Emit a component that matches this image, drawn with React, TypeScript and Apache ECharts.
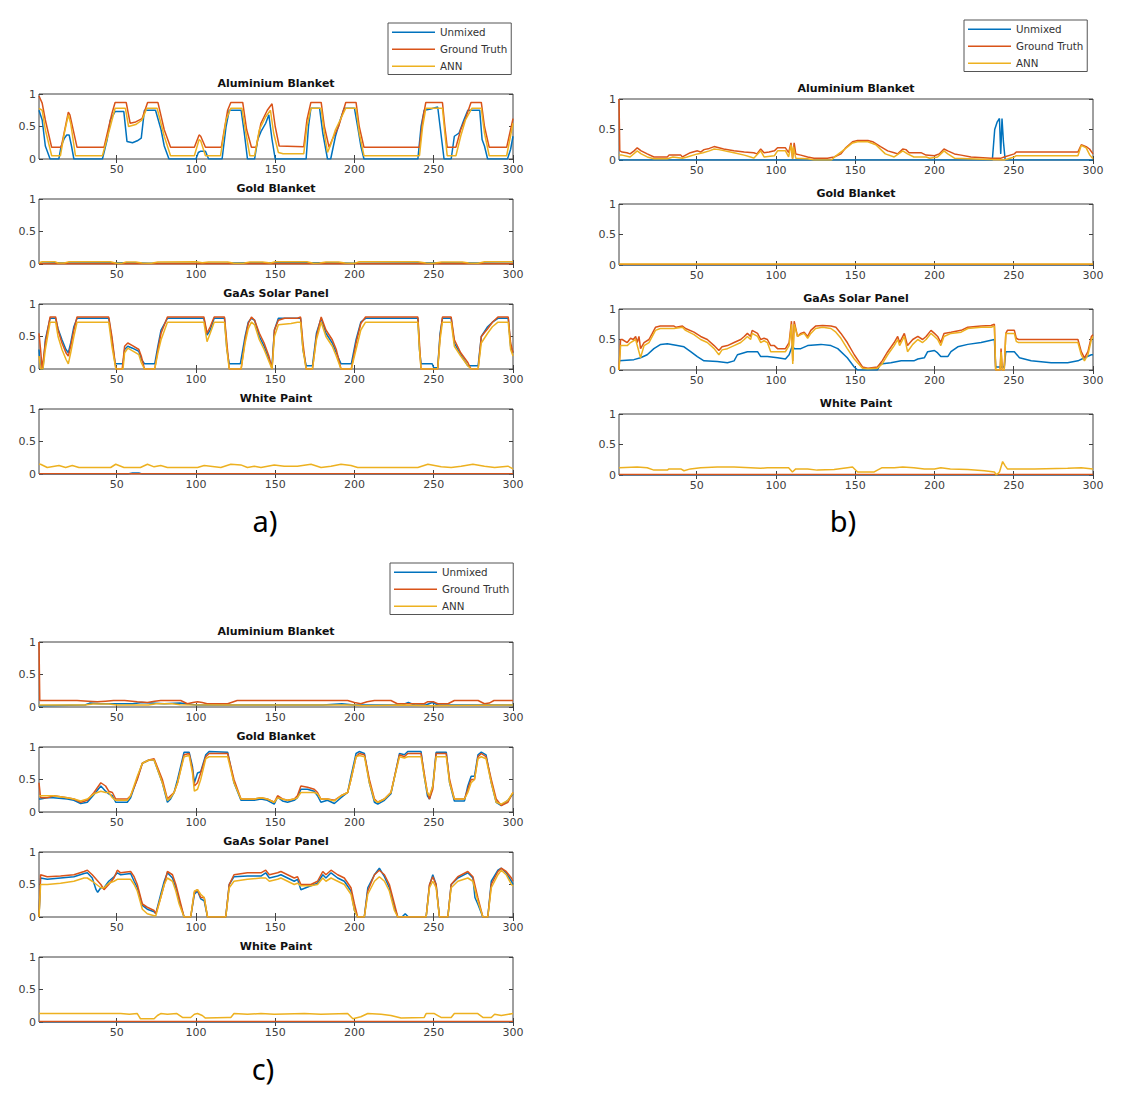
import React, { useEffect, useRef } from "react";
import * as echarts from "echarts";

const SERIES_NAMES = ["Unmixed", "Ground Truth", "ANN"];
const SERIES_COLORS = ["#0072BD", "#D95319", "#EDB120"];
const SUBPLOT_TITLES = ["Aluminium Blanket", "Gold Blanket", "GaAs Solar Panel", "White Paint"];
const X_TICKS = [50, 100, 150, 200, 250, 300];
const PANEL_TAGS = ["a)", "b)", "c)"];

// ---------- Panel a ----------
const aAlUnmixed = [[1,0.75],[3,0.6],[5,0.2],[8,0],[13.5,0],[15,0.2],[17,0.32],[18.5,0.37],[20,0.37],[21.5,0.2],[23,0],[41,0],[44,0.3],[46,0.6],[49,0.73],[54.5,0.73],[56.5,0.27],[60,0.25],[63,0.28],[65.5,0.32],[67.5,0.75],[74.5,0.75],[78,0.45],[80,0.2],[83,0],[100,0],[101.5,0.1],[103,0.12],[106,0.12],[108,0],[116.5,0],[119,0.5],[121,0.75],[128.5,0.75],[130.5,0.4],[132.5,0],[137,0],[139,0.3],[141,0.42],[144,0.55],[146,0.68],[148,0.3],[150,0],[169.5,0],[171,0.5],[172.5,0.78],[178,0.78],[180,0.4],[183,0],[185,0],[188,0.35],[191,0.6],[193.5,0.78],[200,0.78],[202,0.5],[204,0.2],[206,0],[240,0],[242,0.5],[244,0.75],[248,0.77],[252.5,0.8],[254,0.5],[256.5,0],[261,0],[263,0.35],[266,0.4],[269,0.6],[271.5,0.75],[279,0.75],[280.5,0.3],[282,0.2],[284,0],[296.5,0],[298.5,0.15],[300,0.35]];
const aAlTruth = [[1,0.97],[3,0.86],[5,0.6],[9,0.18],[15,0.18],[19.5,0.72],[20.5,0.68],[25,0.18],[42,0.18],[47,0.7],[49,0.87],[56,0.87],[58.5,0.55],[62,0.57],[66,0.62],[69.5,0.87],[76,0.87],[80,0.45],[84,0.18],[99,0.18],[102,0.37],[103,0.35],[106,0.18],[116,0.18],[120,0.75],[122,0.87],[129.5,0.87],[132,0.45],[135,0.18],[138,0.18],[141,0.55],[145,0.75],[148,0.85],[150,0.5],[152.5,0.2],[168,0.19],[170,0.6],[172.5,0.87],[179,0.87],[181,0.5],[184,0.18],[186,0.3],[190,0.5],[194.5,0.87],[201,0.87],[203,0.5],[206,0.18],[241,0.18],[243,0.6],[245,0.87],[255.5,0.87],[257,0.5],[258.5,0.18],[264,0.18],[267,0.45],[270,0.62],[273.5,0.87],[280,0.87],[282,0.5],[285,0.18],[296,0.18],[298,0.4],[300,0.62]];
const aAlAnn = [[1,0.78],[3,0.75],[5,0.45],[9,0.05],[14.5,0.05],[17,0.4],[19.5,0.68],[21,0.55],[24,0.05],[41,0.05],[46,0.5],[49,0.78],[55.5,0.78],[57.5,0.5],[62,0.53],[66,0.6],[69,0.78],[75.5,0.78],[80,0.35],[84,0.05],[99,0.05],[102,0.3],[103,0.28],[106,0.05],[115.5,0.05],[119,0.6],[122,0.78],[129,0.78],[131.5,0.4],[134,0.05],[137,0.05],[140,0.45],[144,0.65],[147,0.75],[149,0.4],[152,0.1],[155,0.08],[168,0.08],[170,0.5],[172.5,0.78],[179,0.78],[181,0.4],[183,0.1],[185,0.22],[188,0.45],[191,0.6],[194.5,0.78],[201,0.78],[203,0.4],[206,0.05],[241,0.05],[243,0.5],[245,0.78],[255.5,0.78],[257,0.4],[258.5,0.05],[264,0.05],[267,0.35],[270,0.6],[274,0.78],[280,0.78],[282,0.4],[285,0.05],[296,0.05],[298,0.3],[300,0.55]];

const aGoldUnmixed = [[1,0.01],[12,0.02],[18,0.015],[60,0.02],[70,0.01],[120,0.015],[135,0.02],[185,0.02],[200,0.01],[260,0.02],[300,0.01]];
const aGoldTruth = [[1,0.004],[300,0.004]];
const aGoldAnn = [[1,0.02],[3,0.035],[11,0.035],[13,0.015],[17,0.015],[20,0.035],[46,0.035],[50,0.01],[53,0.01],[56,0.03],[62,0.03],[66,0.015],[72,0.01],[76,0.03],[100,0.035],[104,0.02],[108,0.03],[120,0.03],[124,0.01],[130,0.01],[134,0.03],[142,0.03],[147,0.015],[150,0.035],[170,0.035],[174,0.01],[178,0.015],[182,0.03],[190,0.03],[194,0.015],[200,0.01],[203,0.035],[240,0.035],[245,0.015],[250,0.01],[255,0.03],[268,0.03],[272,0.015],[278,0.01],[282,0.035],[300,0.035]];

const aGaUnmixed = [[1,0.3],[2,0],[3.5,0],[5,0.45],[8,0.78],[11.5,0.78],[13,0.62],[15.5,0.45],[18,0.3],[19.5,0.25],[21,0.4],[23,0.65],[25,0.78],[45,0.78],[47,0.45],[49,0.08],[54,0.08],[55,0.3],[57,0.35],[60,0.32],[64,0.27],[65.5,0.15],[67.5,0.08],[74,0.08],[76,0.35],[78,0.6],[82,0.78],[105,0.78],[107,0.52],[109,0.6],[111.5,0.78],[118,0.78],[119.5,0.3],[121,0.08],[128,0.08],[131,0.5],[133,0.72],[135,0.78],[137,0.75],[140,0.5],[143,0.35],[146,0.15],[148,0.05],[149.5,0.6],[152,0.78],[166,0.78],[167.5,0.3],[169.5,0.05],[173.5,0.05],[176,0.55],[179,0.78],[182,0.55],[186,0.4],[188.5,0.25],[191.5,0.08],[198,0.08],[201,0.45],[204,0.72],[207,0.78],[240,0.78],[241,0.3],[242,0.08],[249,0.08],[250,0.02],[252.5,0.02],[254,0.55],[255.5,0.78],[261,0.78],[263,0.4],[267,0.22],[271.5,0.05],[278,0.05],[280,0.5],[284,0.65],[287,0.72],[290.5,0.78],[297,0.78],[298.5,0.35],[300,0.25]];
const aGaTruth = [[1,0.55],[2,0.3],[3,0],[5,0.4],[8,0.8],[11.5,0.8],[13,0.6],[15.5,0.4],[18,0.25],[19.5,0.2],[21,0.35],[23,0.6],[25,0.8],[45,0.8],[47,0.5],[49.5,0],[53.5,0],[55,0.35],[57,0.4],[60,0.36],[64,0.3],[65.5,0.2],[67.5,0],[74,0],[76,0.3],[78,0.55],[82,0.8],[105,0.8],[107,0.55],[109,0.65],[111.5,0.8],[118,0.8],[119.5,0.4],[121,0],[128.5,0],[131,0.45],[133,0.7],[135,0.8],[137,0.75],[140,0.55],[143,0.4],[146,0.2],[148,0],[149.5,0.6],[152,0.75],[156,0.78],[164,0.78],[166,0.8],[167.5,0.4],[169.5,0],[173.5,0],[176,0.5],[179,0.8],[182,0.6],[186,0.45],[188.5,0.3],[191.5,0],[198,0],[201,0.4],[204,0.7],[207,0.8],[240,0.8],[241,0.4],[242,0],[252.5,0],[254,0.5],[255.5,0.8],[261,0.8],[263,0.45],[267,0.25],[271.5,0.1],[273.5,0],[278,0],[280,0.5],[284,0.62],[287,0.72],[290.5,0.8],[297,0.8],[298.5,0.4],[300,0.25]];
const aGaAnn = [[1,0.2],[2,0],[3.5,0],[5,0.3],[8,0.72],[11.5,0.72],[13,0.5],[15.5,0.3],[18,0.15],[19.5,0.08],[21,0.25],[23,0.5],[25,0.72],[45,0.72],[47,0.35],[49.5,0],[54,0],[55,0.25],[57,0.32],[60,0.28],[64,0.22],[65.5,0.1],[67.5,0],[74,0],[76,0.25],[78,0.45],[82,0.72],[105,0.72],[107,0.42],[109,0.55],[111.5,0.72],[118,0.72],[119.5,0.3],[121,0],[128.5,0],[131,0.4],[133,0.62],[135,0.72],[137,0.68],[140,0.45],[143,0.3],[146,0.12],[148,0],[149.5,0.5],[152,0.68],[160,0.7],[164,0.72],[166,0.72],[167.5,0.3],[169.5,0],[173.5,0],[176,0.45],[179,0.72],[182,0.5],[186,0.35],[188.5,0.2],[191.5,0],[198,0],[201,0.3],[204,0.6],[207,0.72],[240,0.72],[241,0.3],[242,0],[252.5,0],[254,0.45],[255.5,0.72],[261,0.72],[263,0.35],[267,0.2],[271.5,0.05],[273.5,0],[278,0],[280,0.4],[284,0.55],[287,0.65],[290.5,0.72],[297,0.72],[298.5,0.3],[300,0.2]];

const aWhiteUnmixed = [[1,0],[57,0],[60,0.015],[64,0.015],[66,0],[300,0]];
const aWhiteTruth = [[1,0.004],[300,0.004]];
const aWhiteAnn = [[1,0.15],[2,0.15],[6.2,0.1],[13.6,0.13],[17.8,0.1],[22,0.13],[26.2,0.1],[46.2,0.1],[49.4,0.15],[54.6,0.1],[65,0.1],[69.4,0.15],[73.6,0.11],[77.8,0.13],[82,0.1],[101,0.1],[105.2,0.13],[115.7,0.1],[122,0.15],[128.3,0.14],[132.5,0.1],[136.8,0.12],[141,0.1],[149.4,0.14],[155.7,0.12],[164,0.12],[172.6,0.15],[178.9,0.1],[185.2,0.12],[191.5,0.15],[197.8,0.13],[202,0.1],[240,0.1],[246.3,0.15],[254.7,0.11],[261,0.1],[267.3,0.12],[274.7,0.15],[282,0.12],[288.4,0.1],[296.8,0.12],[300,0.08]];

// ---------- Panel b ----------
const bAlUnmixed = [[1,0],[236.5,0],[238,0.5],[239.5,0.62],[241,0.68],[241.8,0.1],[242.6,0.68],[243.5,0.3],[244.6,0],[300,0]];
const bAlTruth = [[1,1],[1.5,0.15],[3,0.13],[6,0.12],[8,0.1],[10.5,0.15],[12.5,0.2],[15,0.15],[18.8,0.1],[23,0.05],[31.5,0.05],[32.5,0.08],[40,0.08],[41,0.05],[46,0.12],[50.5,0.15],[52.5,0.13],[54.6,0.17],[58,0.19],[61,0.22],[67,0.18],[73.5,0.15],[80,0.13],[86,0.12],[88,0.1],[90.4,0.18],[92.5,0.12],[95.7,0.13],[99,0.15],[101,0.2],[106,0.2],[108,0.12],[109.5,0.28],[110.5,0.02],[111.5,0.28],[112.5,0.1],[115.7,0.08],[120,0.05],[124,0.03],[132.5,0.03],[136.7,0.05],[141,0.1],[144,0.2],[148.3,0.3],[151.5,0.32],[158,0.32],[161,0.3],[166,0.22],[170.5,0.15],[174.6,0.12],[176.8,0.1],[180,0.18],[182,0.17],[184,0.12],[191.5,0.12],[194.7,0.08],[200,0.07],[203,0.1],[206,0.18],[208.4,0.15],[212.6,0.1],[216.8,0.08],[223,0.05],[235.7,0.03],[242,0.03],[244,0.05],[250.4,0.1],[251.6,0.13],[290.5,0.13],[292.6,0.25],[295.7,0.22],[297.8,0.18],[300,0.1]];
const bAlAnn = [[1,0.08],[3,0.08],[8,0.05],[12.5,0.15],[15,0.1],[18.8,0.05],[23,0.02],[31.5,0.02],[35,0.05],[41,0.03],[44,0.05],[50.5,0.1],[54,0.12],[58,0.15],[61,0.18],[64,0.17],[73.5,0.12],[80,0.08],[84,0.05],[86,0.03],[90.4,0.15],[92.5,0.05],[99,0.07],[101,0.15],[106,0.15],[108,0.05],[109.5,0.25],[110.5,0.02],[111,0.22],[112.5,0.03],[120,0.02],[124,0],[135,0],[137,0.05],[142,0.15],[148.3,0.28],[151.5,0.3],[158,0.3],[163,0.25],[169,0.1],[174.6,0.05],[180,0.15],[183,0.1],[187,0.05],[194.7,0.05],[197,0.03],[202,0.05],[206,0.15],[208.4,0.1],[212.6,0.03],[235,0.01],[244,0],[250.4,0.05],[251.6,0.07],[290.5,0.07],[292.6,0.24],[295.7,0.2],[298,0.08],[300,0.02]];

const bGoldUnmixed = [[1,0],[300,0]];
const bGoldTruth = [[1,0.01],[300,0.01]];
const bGoldAnn = [[1,0.015],[300,0.015]];

const bGaUnmixed = [[1,0.15],[10.4,0.17],[14.6,0.2],[18.8,0.25],[23,0.35],[27.3,0.42],[31.5,0.43],[37.8,0.4],[42,0.38],[46.2,0.3],[50.4,0.22],[54.6,0.15],[63,0.14],[69.4,0.12],[73.6,0.15],[75.7,0.25],[82,0.3],[88.4,0.3],[90.4,0.22],[94.6,0.22],[101,0.2],[106,0.18],[108.3,0.25],[110.4,0.4],[111.5,0.35],[115.7,0.35],[120,0.4],[128.4,0.42],[134.7,0.4],[139,0.35],[145,0.2],[149.4,0.05],[151.5,0],[164,0],[166,0.1],[172.5,0.12],[179,0.15],[187,0.15],[189.5,0.18],[193.6,0.2],[195.7,0.3],[200,0.32],[202,0.28],[204,0.22],[208.4,0.22],[210.4,0.3],[214.7,0.38],[221,0.42],[229.4,0.45],[237.8,0.5],[238.6,0.05],[244,0.05],[245,0.3],[250.4,0.3],[253.6,0.2],[261,0.15],[273.6,0.12],[284,0.12],[290.5,0.15],[294.6,0.2],[299,0.25],[300,0.25]];
const bGaTruth = [[1,0],[2,0.5],[3,0.5],[6.2,0.45],[8.3,0.52],[10,0.5],[11.5,0.55],[12.5,0.45],[13.6,0.55],[14.6,0.35],[16.8,0.45],[19.9,0.5],[22,0.6],[24,0.7],[27,0.72],[35.7,0.72],[37,0.7],[41,0.72],[43,0.68],[48.3,0.62],[52.5,0.55],[56.7,0.5],[61,0.4],[64,0.32],[66,0.38],[69.4,0.4],[73.6,0.45],[77.8,0.5],[80,0.55],[82,0.6],[84,0.55],[85,0.65],[88.4,0.6],[90.4,0.5],[92.5,0.52],[94.6,0.5],[96.7,0.4],[99,0.4],[101,0.35],[106,0.35],[108.3,0.45],[109.8,0.8],[110.6,0.15],[111.5,0.8],[113.6,0.55],[115.7,0.6],[117.8,0.62],[120,0.55],[122,0.65],[125,0.72],[129.4,0.73],[134.7,0.72],[137.8,0.7],[141,0.6],[145,0.45],[149.4,0.25],[154.6,0.05],[158,0.03],[164,0.05],[167,0.15],[170.5,0.3],[174.6,0.45],[176.8,0.55],[178,0.45],[180,0.55],[181,0.6],[183,0.4],[186.3,0.5],[189.5,0.55],[192.5,0.5],[194.7,0.55],[197.8,0.65],[200,0.6],[202,0.55],[204,0.45],[206,0.6],[210.4,0.62],[216.8,0.65],[221,0.7],[229.4,0.72],[235.7,0.73],[237.8,0.75],[238.6,0],[241.4,0],[242,0.35],[242.8,0],[244,0],[245,0.6],[246,0.65],[250.4,0.65],[251.6,0.52],[253,0.5],[290.5,0.5],[292.6,0.3],[294.6,0.2],[296.8,0.3],[299,0.55],[300,0.58]];
const bGaAnn = [[1,0],[2,0.4],[3,0.4],[6.2,0.4],[8.3,0.45],[11.5,0.5],[14.6,0.2],[16.8,0.4],[19.9,0.45],[22,0.55],[24,0.65],[27,0.68],[35.7,0.68],[41,0.7],[43,0.65],[48.3,0.58],[52.5,0.5],[56.7,0.45],[61,0.35],[64,0.25],[66,0.33],[69.4,0.35],[73.6,0.4],[77.8,0.45],[80,0.5],[82,0.55],[84,0.5],[85,0.6],[88.4,0.55],[90.4,0.45],[92.5,0.48],[94.6,0.45],[96.7,0.3],[99,0.3],[101,0.3],[106,0.3],[108.3,0.4],[109.8,0.75],[110.6,0.1],[111.5,0.75],[113.6,0.55],[115.7,0.58],[117.8,0.6],[120,0.52],[122,0.6],[125,0.68],[129.4,0.7],[134.7,0.68],[137.8,0.62],[141,0.52],[145,0.35],[149.4,0.18],[154.6,0.03],[158,0.02],[164,0.03],[167,0.1],[170.5,0.25],[174.6,0.4],[176.8,0.5],[178,0.4],[180,0.5],[181,0.55],[183,0.3],[186.3,0.42],[189.5,0.5],[192.5,0.45],[194.7,0.5],[197.8,0.6],[200,0.55],[202,0.5],[204,0.4],[206,0.55],[210.4,0.6],[216.8,0.62],[221,0.68],[229.4,0.7],[235.7,0.7],[237.8,0.72],[238.6,0],[241.4,0],[242,0.3],[242.8,0],[244,0],[245,0.6],[246,0.6],[250.4,0.6],[251.6,0.47],[253,0.45],[290.5,0.45],[292.6,0.25],[294.6,0.15],[296.8,0.25],[299,0.5],[300,0.55]];

const bWhiteUnmixed = [[1,0],[300,0]];
const bWhiteTruth = [[1,0.008],[300,0.008]];
const bWhiteAnn = [[1,0.12],[12.5,0.13],[18.8,0.12],[23,0.08],[31.5,0.08],[32.5,0.1],[40,0.1],[42,0.07],[46,0.1],[52.5,0.12],[63,0.13],[73.6,0.13],[84,0.12],[90.4,0.11],[94.6,0.12],[105,0.12],[108,0.12],[110.4,0.05],[112.5,0.1],[120,0.1],[126,0.08],[136.7,0.09],[145,0.12],[148.3,0.13],[151.5,0.05],[162,0.05],[164,0.08],[167,0.12],[174.6,0.12],[180,0.13],[187,0.12],[193.6,0.1],[200,0.1],[204,0.12],[210,0.1],[221,0.09],[231.5,0.07],[237.8,0.05],[239,0],[241,0.05],[243,0.22],[244.6,0.15],[246,0.1],[263,0.1],[284,0.11],[292.6,0.12],[300,0.1]];

// ---------- Panel c ----------
const cAlUnmixed = [[1,0.02],[30,0.03],[33,0.06],[40,0.05],[60,0.05],[66,0.07],[80,0.05],[90,0.06],[100,0.03],[150,0.03],[180,0.03],[192,0.05],[200,0.03],[230,0.03],[234,0.07],[238,0.03],[245,0.03],[249,0.07],[253,0.03],[300,0.03]];
const cAlTruth = [[1,1],[1.5,0.1],[25,0.1],[32,0.09],[37.8,0.08],[43,0.09],[48,0.1],[55,0.1],[63,0.08],[69.4,0.07],[74,0.09],[77.8,0.1],[90.4,0.1],[94.6,0.05],[98,0.07],[101,0.08],[104,0.07],[107,0.05],[120,0.05],[126,0.1],[195.7,0.1],[200,0.07],[204,0.05],[208,0.08],[212.6,0.1],[223,0.1],[227,0.05],[244,0.05],[246,0.08],[250,0.08],[252.5,0.05],[259,0.05],[263,0.1],[278,0.1],[282,0.05],[285,0.06],[288,0.1],[300,0.1]];
const cAlAnn = [[1,0.03],[30,0.03],[35,0.045],[45,0.045],[50,0.03],[70,0.03],[75,0.05],[85,0.05],[90,0.035],[120,0.03],[200,0.03],[205,0.02],[230,0.03],[245,0.02],[300,0.03]];

const cGoldUnmixed = [[1,0.2],[2,0.2],[6,0.22],[10,0.22],[18.8,0.2],[23,0.18],[27.3,0.13],[31.5,0.15],[35.7,0.27],[40,0.4],[43,0.32],[45,0.28],[47.3,0.25],[49.4,0.15],[56.7,0.15],[58.8,0.22],[63,0.52],[66.2,0.75],[70.4,0.8],[73.6,0.8],[78.8,0.45],[82,0.15],[84,0.2],[86.2,0.3],[88.4,0.5],[92.5,0.92],[95.7,0.92],[97.8,0.7],[99,0.45],[101,0.6],[103,0.62],[106.2,0.88],[108.3,0.93],[120,0.92],[124,0.45],[128.4,0.18],[136.8,0.18],[141,0.2],[145,0.18],[149.4,0.12],[151.5,0.23],[154.6,0.17],[157.8,0.15],[162,0.18],[164,0.22],[166.2,0.35],[170.4,0.35],[174.6,0.32],[176.7,0.25],[178.8,0.15],[183,0.18],[187.3,0.13],[191.5,0.22],[195.7,0.3],[197.8,0.55],[201,0.9],[203,0.93],[206.3,0.9],[209.4,0.45],[212.6,0.15],[214.7,0.12],[218.9,0.18],[223,0.28],[228.4,0.9],[231.5,0.88],[233.6,0.93],[242,0.93],[244,0.55],[246,0.25],[247.3,0.2],[249.4,0.4],[251.5,0.92],[257.9,0.92],[260,0.45],[263,0.17],[269.4,0.17],[271.5,0.4],[273.6,0.55],[275.7,0.55],[277.9,0.88],[280,0.92],[283,0.88],[286.3,0.45],[289.4,0.15],[292.6,0.1],[296.8,0.18],[300,0.28]];
const cGoldTruth = [[1,0.45],[2,0.22],[6.2,0.22],[10.4,0.25],[18.8,0.22],[23,0.2],[27.3,0.15],[31.5,0.18],[35.7,0.3],[40,0.45],[43,0.4],[45,0.32],[47.3,0.3],[49.4,0.2],[56.7,0.2],[58.8,0.25],[63,0.5],[66.2,0.75],[70.4,0.8],[73.6,0.82],[78.8,0.5],[82,0.2],[84,0.25],[86.2,0.3],[88.4,0.45],[92.5,0.88],[95.7,0.9],[97.8,0.65],[99,0.4],[101,0.45],[103,0.6],[106.2,0.85],[108.3,0.9],[120,0.9],[124,0.5],[128.4,0.2],[136.8,0.2],[141,0.22],[145,0.2],[149.4,0.15],[151.5,0.25],[154.6,0.2],[157.8,0.18],[162,0.2],[164,0.25],[166.2,0.4],[170.4,0.38],[174.6,0.35],[176.7,0.3],[178.8,0.2],[183,0.2],[187.3,0.18],[191.5,0.25],[195.7,0.3],[197.8,0.5],[201,0.85],[203,0.9],[206.3,0.88],[209.4,0.5],[212.6,0.2],[214.7,0.15],[218.9,0.2],[223,0.3],[228.4,0.88],[231.5,0.85],[233.6,0.9],[242,0.9],[244,0.6],[246,0.3],[247.3,0.2],[249.4,0.35],[251.5,0.9],[257.9,0.9],[260,0.5],[263,0.2],[269.4,0.2],[271.5,0.35],[273.6,0.5],[275.7,0.5],[277.9,0.85],[280,0.9],[283,0.85],[286.3,0.5],[289.4,0.2],[292.6,0.1],[296.8,0.15],[300,0.3]];
const cGoldAnn = [[1,0.25],[2,0.25],[6,0.25],[10,0.25],[18.8,0.22],[23,0.2],[27.3,0.17],[31.5,0.2],[35.7,0.28],[40,0.32],[43,0.3],[45,0.3],[47.3,0.22],[49.4,0.18],[56.7,0.18],[58.8,0.25],[63,0.55],[66.2,0.75],[70.4,0.8],[73.6,0.8],[78.8,0.45],[82,0.18],[84,0.22],[86.2,0.3],[88.4,0.45],[92.5,0.85],[95.7,0.87],[97.8,0.6],[99,0.32],[101,0.35],[103,0.5],[106.2,0.82],[108.3,0.85],[120,0.85],[124,0.45],[128.4,0.2],[136.8,0.2],[141,0.22],[145,0.2],[149.4,0.15],[151.5,0.22],[154.6,0.2],[157.8,0.18],[162,0.2],[164,0.22],[166.2,0.3],[170.4,0.3],[174.6,0.3],[176.7,0.28],[178.8,0.2],[183,0.2],[187.3,0.17],[191.5,0.25],[195.7,0.3],[197.8,0.5],[201,0.85],[203,0.87],[206.3,0.85],[209.4,0.45],[212.6,0.18],[214.7,0.15],[218.9,0.2],[223,0.3],[228.4,0.85],[231.5,0.83],[233.6,0.85],[242,0.85],[244,0.55],[246,0.3],[247.3,0.25],[249.4,0.4],[251.5,0.85],[257.9,0.85],[260,0.45],[263,0.2],[269.4,0.2],[271.5,0.3],[273.6,0.45],[275.7,0.5],[277.9,0.82],[280,0.85],[283,0.82],[286.3,0.45],[289.4,0.15],[292.6,0.12],[296.8,0.18],[300,0.3]];

const cGaUnmixed = [[1,0],[2,0.6],[6.2,0.58],[14.6,0.6],[23,0.62],[29.4,0.67],[31.5,0.68],[34.6,0.6],[37,0.42],[38,0.38],[40,0.45],[42,0.45],[45,0.55],[48.3,0.62],[50.4,0.68],[52.5,0.65],[58.8,0.67],[61,0.55],[63,0.45],[66.2,0.18],[69.3,0.12],[73.6,0.08],[74.7,0.05],[77.8,0.35],[80,0.55],[82,0.68],[85.2,0.6],[87.3,0.45],[89.4,0.25],[92.5,0],[96.7,0],[99,0.35],[101,0.4],[103,0.28],[105.2,0.25],[107.3,0],[118.8,0],[121,0.5],[124,0.62],[132.5,0.63],[141,0.63],[144,0.68],[146.3,0.6],[151.5,0.63],[153.6,0.65],[157.8,0.6],[162,0.55],[164.1,0.58],[166.2,0.42],[172.5,0.48],[176.7,0.52],[180,0.65],[182,0.6],[185.2,0.68],[189.4,0.6],[193.6,0.55],[197.8,0.4],[200,0.1],[202,0],[206.2,0],[208.4,0.45],[212.6,0.65],[215.7,0.75],[218.9,0.62],[222,0.45],[225.2,0.15],[227.3,0],[230,0],[232,0.05],[234,0],[245.2,0],[247.3,0.48],[249.4,0.65],[251.5,0.5],[253.6,0],[258.9,0],[261,0.5],[265.2,0.6],[271.5,0.68],[274.7,0.6],[276,0.3],[277.8,0.2],[281,0],[284.1,0],[286.3,0.55],[290.5,0.72],[292.6,0.75],[295.7,0.68],[299,0.55],[300,0.5]];
const cGaTruth = [[1,0],[2,0.65],[6.2,0.62],[14.6,0.63],[23,0.65],[29.4,0.7],[31.5,0.72],[34.6,0.65],[40,0.5],[42,0.42],[45,0.5],[48.3,0.6],[50.4,0.72],[52.5,0.68],[58.8,0.7],[61,0.62],[63,0.5],[66.2,0.2],[69.3,0.15],[73.6,0.1],[74.7,0.05],[77.8,0.3],[80,0.5],[82,0.7],[85.2,0.65],[87.3,0.5],[89.4,0.3],[92.5,0],[96.7,0],[99,0.38],[101,0.42],[103,0.3],[105.2,0.3],[107.3,0],[118.8,0],[121,0.5],[124,0.65],[132.5,0.68],[141,0.68],[144,0.72],[146.3,0.65],[151.5,0.68],[153.6,0.7],[157.8,0.65],[162,0.6],[164.1,0.62],[166.2,0.5],[172.5,0.5],[176.7,0.55],[180,0.7],[182,0.65],[185.2,0.72],[189.4,0.65],[193.6,0.6],[197.8,0.45],[200,0.2],[202,0],[206.2,0],[208.4,0.4],[212.6,0.65],[215.7,0.72],[218.9,0.65],[222,0.5],[225.2,0.2],[227.3,0],[245.2,0],[247.3,0.5],[249.4,0.62],[251.5,0.5],[253.6,0],[258.9,0],[261,0.5],[265.2,0.62],[271.5,0.7],[274.7,0.62],[277.8,0.3],[281,0],[284.1,0],[286.3,0.5],[290.5,0.7],[292.6,0.75],[295.7,0.7],[299,0.6],[300,0.55]];
const cGaAnn = [[1,0],[2,0.5],[6.2,0.5],[14.6,0.52],[23,0.55],[29.4,0.6],[31.5,0.6],[34.6,0.55],[40,0.45],[42,0.45],[45,0.52],[48.3,0.55],[50.4,0.58],[52.5,0.58],[58.8,0.58],[61,0.5],[63,0.4],[66.2,0.12],[69.3,0.05],[73.6,0.02],[74.7,0.02],[77.8,0.3],[80,0.5],[82,0.6],[85.2,0.55],[87.3,0.4],[89.4,0.2],[92.5,0],[96.7,0],[99,0.4],[101,0.42],[103,0.35],[105.2,0.3],[107.3,0],[118.8,0],[121,0.45],[124,0.55],[132.5,0.58],[141,0.6],[144,0.6],[146.3,0.55],[151.5,0.58],[153.6,0.6],[157.8,0.55],[162,0.5],[164.1,0.52],[166.2,0.48],[172.5,0.48],[176.7,0.5],[180,0.6],[182,0.55],[185.2,0.6],[189.4,0.55],[193.6,0.5],[197.8,0.35],[200,0.1],[202,0],[206.2,0],[208.4,0.35],[212.6,0.55],[215.7,0.62],[218.9,0.55],[222,0.4],[225.2,0.1],[227.3,0],[245.2,0],[247.3,0.45],[249.4,0.55],[251.5,0.45],[253.6,0],[258.9,0],[261,0.45],[265.2,0.55],[271.5,0.6],[274.7,0.55],[277.8,0.25],[281,0],[284.1,0],[286.3,0.45],[290.5,0.65],[292.6,0.72],[295.7,0.65],[299,0.5],[300,0.48]];

const cWhiteUnmixed = [[1,0],[300,0]];
const cWhiteTruth = [[1,0.006],[300,0.006]];
const cWhiteAnn = [[1,0.13],[52.5,0.13],[58,0.12],[63,0.13],[65,0.05],[73.6,0.05],[75.7,0.1],[77.8,0.13],[82,0.12],[88,0.13],[91.5,0.07],[96.7,0.07],[99,0.12],[101,0.13],[104,0.1],[106,0.06],[120,0.07],[122,0.07],[124,0.13],[132.5,0.12],[141,0.13],[149.4,0.12],[168.4,0.13],[178.8,0.12],[195.7,0.13],[199,0.05],[204,0.08],[208.4,0.13],[216.8,0.12],[223,0.1],[229.4,0.06],[244,0.07],[245.2,0.13],[250.4,0.13],[254.6,0.07],[261,0.07],[263,0.13],[277.8,0.13],[281,0.07],[286.3,0.07],[288.4,0.12],[292.6,0.1],[300,0.13]];

const PANEL_DATA = [
  [[aAlUnmixed, aAlTruth, aAlAnn], [aGoldUnmixed, aGoldTruth, aGoldAnn], [aGaUnmixed, aGaTruth, aGaAnn], [aWhiteUnmixed, aWhiteTruth, aWhiteAnn]],
  [[bAlUnmixed, bAlTruth, bAlAnn], [bGoldUnmixed, bGoldTruth, bGoldAnn], [bGaUnmixed, bGaTruth, bGaAnn], [bWhiteUnmixed, bWhiteTruth, bWhiteAnn]],
  [[cAlUnmixed, cAlTruth, cAlAnn], [cGoldUnmixed, cGoldTruth, cGoldAnn], [cGaUnmixed, cGaTruth, cGaAnn], [cWhiteUnmixed, cWhiteTruth, cWhiteAnn]],
];

// layout (pixels)
const LAYOUT = [
  { left: 39, tops: [94, 199, 304, 409], h: 65, legend: [388, 23], tag: [265, 520] },
  { left: 619, tops: [99, 204, 309, 414], h: 61, legend: [964, 20], tag: [843, 520] },
  { left: 39, tops: [642, 747, 852, 957], h: 65, legend: [390, 563], tag: [263, 1068] },
];
const PLOT_W = 474;
const AX = "#404040";
const FONT = "DejaVu Sans";

function buildOption() {
  const grid: any[] = [];
  const xBottom: any[] = [];
  const xTop: any[] = [];
  const yLeft: any[] = [];
  const yRight: any[] = [];
  const series: any[] = [];
  const graphic: any[] = [];
  const legend: any[] = [];
  let n = 0;
  LAYOUT.forEach((p, pi) => {
    p.tops.forEach((top, si) => {
      grid.push({ left: p.left, top, width: PLOT_W, height: p.h, show: true, borderColor: AX, borderWidth: 1, backgroundColor: "#fff" });
      n++;
      graphic.push({
        type: "text", x: p.left + PLOT_W / 2, y: top - 10.5, z: 10,
        style: { text: SUBPLOT_TITLES[si], fill: "#111", font: `bold 11px "${FONT}"`, textAlign: "center", textVerticalAlign: "middle" },
      });
    });
    legend.push({
      data: SERIES_NAMES, orient: "vertical", left: p.legend[0], top: p.legend[1],
      icon: "rect", itemWidth: 43, itemHeight: 1.5, itemGap: 4.5, padding: [3, 4, 2, 4],
      borderColor: "#555", borderWidth: 1, backgroundColor: "#fff", selectedMode: false,
      textStyle: { fontSize: 10.3, fontFamily: FONT, color: "#333", lineHeight: 12.5 },
    });
    graphic.push({
      type: "text", x: p.tag[0], y: p.tag[1], z: 10,
      style: { text: PANEL_TAGS[pi], fill: "#000", font: `29px "Noto Sans"`, textAlign: "center", textVerticalAlign: "middle" },
    });
  });
  for (let i = 0; i < n; i++) {
    xBottom.push({
      type: "value", gridIndex: i, min: 1, max: 300, position: "bottom",
      axisLine: { show: false }, splitLine: { show: false },
      axisTick: { inside: true, length: 4, customValues: X_TICKS, lineStyle: { color: AX } },
      axisLabel: { customValues: X_TICKS, fontSize: 11, fontFamily: FONT, color: AX, margin: 5 },
    });
    xTop.push({
      type: "value", gridIndex: i, min: 1, max: 300, position: "top",
      axisLine: { show: false }, splitLine: { show: false },
      axisTick: { inside: true, length: 4, customValues: X_TICKS, lineStyle: { color: AX } },
      axisLabel: { show: false },
    });
    yLeft.push({
      type: "value", gridIndex: i, min: 0, max: 1, interval: 0.5, position: "left",
      axisLine: { show: false }, splitLine: { show: false },
      axisTick: { inside: true, length: 4, lineStyle: { color: AX } },
      axisLabel: { fontSize: 11, fontFamily: FONT, color: AX, margin: 3 },
    });
    yRight.push({
      type: "value", gridIndex: i, min: 0, max: 1, interval: 0.5, position: "right",
      axisLine: { show: false }, splitLine: { show: false },
      axisTick: { inside: true, length: 4, lineStyle: { color: AX } },
      axisLabel: { show: false },
    });
  }
  let idx = 0;
  PANEL_DATA.forEach((panel) => {
    panel.forEach((sub) => {
      sub.forEach((data, k) => {
        series.push({
          type: "line", name: SERIES_NAMES[k], xAxisIndex: idx, yAxisIndex: idx,
          data, symbol: "none", showSymbol: false, clip: true,
          lineStyle: { width: 1.5, color: SERIES_COLORS[k] },
          itemStyle: { color: SERIES_COLORS[k] },
          z: 2 + k,
        });
      });
      idx++;
    });
  });
  return {
    animation: false,
    backgroundColor: "#fff",
    color: SERIES_COLORS,
    grid,
    xAxis: [...xBottom, ...xTop],
    yAxis: [...yLeft, ...yRight],
    legend,
    graphic,
    series,
  };
}

export default function App() {
  const ref = useRef<HTMLDivElement>(null);
  useEffect(() => {
    document.body.style.margin = "0";
    if (!ref.current) return;
    const chart = echarts.init(ref.current, undefined, { renderer: "svg" });
    chart.setOption(buildOption() as any);
    return () => chart.dispose();
  }, []);
  return <div ref={ref} style={{ width: 1136, height: 1101, background: "#fff" }} />;
}
